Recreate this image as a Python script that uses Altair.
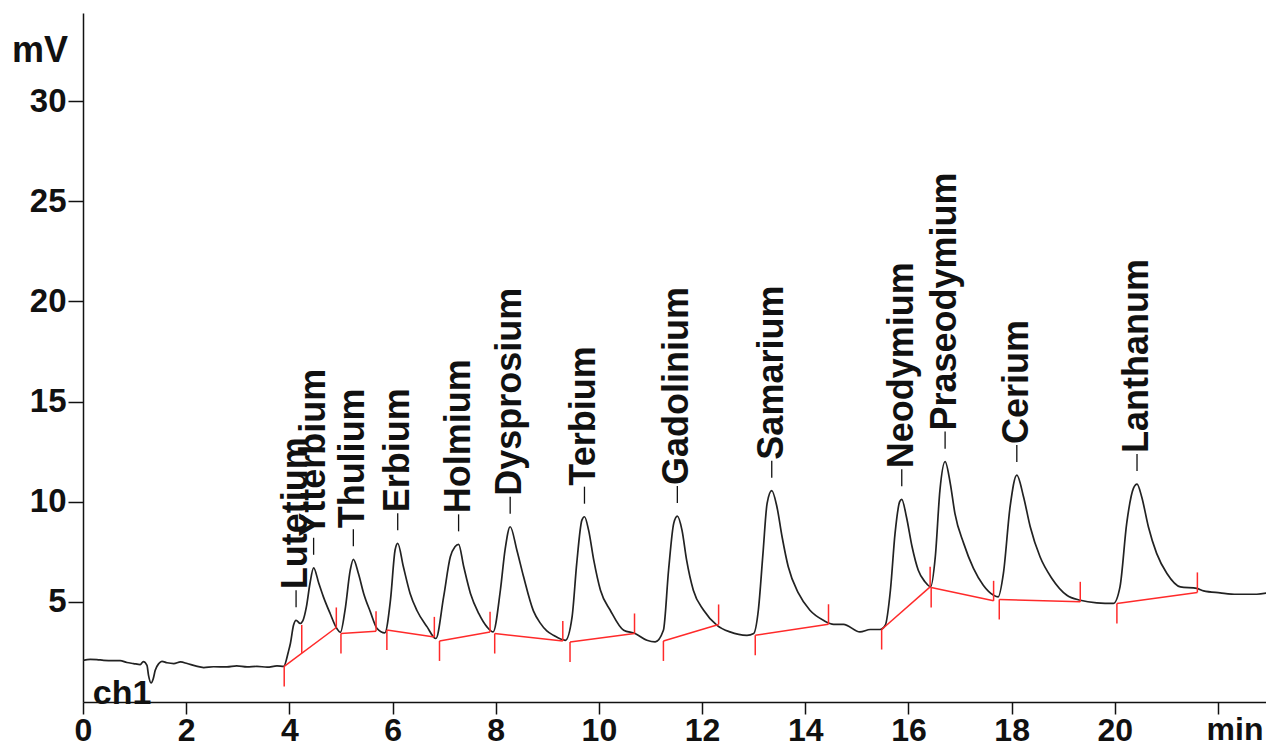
import altair as alt
import pandas as pd

# ---------------- data ----------------
trace_t = [0.00, 0.14, 0.27, 0.40, 0.59, 0.72, 0.85, 0.98, 1.11, 1.17, 1.24, 1.27, 1.32, 1.36, 1.40,
           1.47, 1.53, 1.63, 1.76, 1.89, 2.02, 2.18, 2.34, 2.53, 2.79, 2.98, 3.18, 3.37, 3.57, 3.76,
           3.89, 3.98, 4.02, 4.08, 4.13, 4.21, 4.26, 4.33, 4.40, 4.47, 4.57, 4.66, 4.79, 4.92, 4.99,
           5.08, 5.18, 5.24, 5.34, 5.44, 5.57, 5.70, 5.85, 5.96, 6.05, 6.10, 6.21, 6.34, 6.47, 6.67,
           6.84, 6.99, 7.12, 7.21, 7.28, 7.38, 7.51, 7.67, 7.83, 7.95, 8.09, 8.18, 8.28, 8.41, 8.54,
           8.73, 8.86, 8.99, 9.12, 9.35, 9.48, 9.57, 9.67, 9.72, 9.80, 9.90, 10.03, 10.22, 10.48, 10.70,
           10.93, 11.09, 11.25, 11.35, 11.45, 11.52, 11.61, 11.70, 11.83, 12.03, 12.29, 12.54, 12.87, 13.00,
           13.09, 13.18, 13.26, 13.35, 13.45, 13.55, 13.67, 13.87, 14.09, 14.35, 14.55, 14.74, 15.06, 15.26,
           15.45, 15.55, 15.65, 15.74, 15.83, 15.87, 15.96, 16.07, 16.19, 16.32, 16.43, 16.52, 16.61, 16.71,
           16.81, 16.90, 17.07, 17.26, 17.45, 17.65, 17.74, 17.84, 17.97, 18.10, 18.23, 18.36, 18.55, 18.78,
           19.07, 19.33, 19.65, 19.97, 20.10, 20.23, 20.36, 20.43, 20.52, 20.65, 20.81, 21.01, 21.27, 21.59,
           21.72, 22.04, 22.36, 22.75, 23.04]
trace_v = [2.08, 2.13, 2.12, 2.08, 2.07, 2.07, 1.97, 1.92, 1.87, 2.02, 1.83, 1.33, 0.95, 1.15, 1.58,
           1.92, 2.03, 1.96, 1.92, 2.00, 1.92, 1.80, 1.72, 1.76, 1.75, 1.80, 1.75, 1.78, 1.74, 1.80,
           1.78, 2.50, 2.92, 3.83, 4.08, 3.92, 4.05, 4.75, 5.93, 6.70, 5.93, 5.25, 4.42, 3.67, 3.48,
           4.60, 6.58, 7.12, 6.40, 5.42, 4.50, 3.67, 3.45, 5.10, 7.60, 7.92, 6.75, 5.42, 4.58, 3.75,
           3.17, 5.25, 7.25, 7.75, 7.87, 6.75, 5.42, 4.42, 3.75, 3.50, 5.58, 7.58, 8.75, 7.58, 6.25,
           4.55, 3.95, 3.55, 3.33, 3.08, 4.25, 6.92, 9.08, 9.25, 8.58, 7.08, 5.58, 4.58, 3.58, 3.42,
           3.08, 3.00, 3.58, 6.58, 8.92, 9.28, 8.58, 7.08, 5.58, 4.58, 3.83, 3.50, 3.33, 3.42,
           4.58, 7.42, 9.92, 10.55, 9.75, 8.25, 6.75, 5.42, 4.58, 4.08, 3.88, 3.88, 3.50, 3.62,
           3.62, 3.83, 5.58, 8.42, 10.00, 10.12, 9.25, 7.75, 6.58, 6.00, 5.75, 7.25, 10.58, 12.00,
           10.92, 9.42, 7.92, 6.67, 5.83, 5.33, 5.25, 6.42, 9.75, 11.33, 10.25, 8.75, 7.25, 6.17,
           5.33, 5.08, 4.95, 4.92, 5.75, 8.92, 10.67, 10.88, 10.25, 8.75, 7.42, 6.42, 5.75, 5.67,
           5.55, 5.45, 5.38, 5.38, 5.50]

peak_names = ["Lutetium", "Ytterbium", "Thulium", "Erbium", "Holmium", "Dysprosium", "Terbium",
              "Gadolinium", "Samarium", "Neodymium", "Praseodymium", "Cerium", "Lanthanum"]
peak_t = [4.13, 4.47, 5.24, 6.10, 7.28, 8.28, 9.72, 11.52, 13.35, 15.87, 16.71, 18.10, 20.43]
peak_v = [4.08, 6.70, 7.12, 7.92, 7.87, 8.75, 9.25, 9.28, 10.55, 10.12, 12.00, 11.33, 10.88]

# integration baselines (start time/value, end time/value)
base_t0 = [3.90, 5.00, 5.89, 6.91, 7.98, 9.44, 11.25, 13.03, 15.48, 16.44, 17.76, 20.04]
base_v0 = [1.78, 3.42, 3.60, 3.05, 3.42, 3.00, 3.05, 3.33, 3.62, 5.72, 5.12, 4.92]
base_t1 = [4.91, 5.68, 6.81, 7.89, 9.30, 10.69, 12.32, 14.45, 16.42, 17.65, 19.33, 21.60]
base_v1 = [3.72, 3.53, 3.25, 3.50, 3.05, 3.42, 3.87, 3.88, 5.75, 5.05, 5.00, 5.47]

# perpendicular drop line between Lutetium and Ytterbium
drop_t = [4.24]
drop_v0 = [2.45]
drop_v1 = [3.85]

x_ticks = [0, 2, 4, 6, 8, 10, 12, 14, 16, 18, 20, 22]
y_ticks = [5, 10, 15, 20, 25, 30]

ann_text = ["ch1"]
ann_t = [0.19]
ann_v = [-0.12]

# ---------------- styling ----------------
FONT = "Liberation Sans"
W, H = 1183, 689
XMAX, YMAX = 22.93, 34.4
TICK = 1.0        # mV length of baseline ticks
DASH_GAP = 0.65
DASH_LEN = 0.85
LABEL_OFF = 1.55
RED = "#ff2a2a"
INK = "#111111"
XLAB_PAD = 1
XLAB_SIZE = 32

xs = alt.Scale(domain=[0, XMAX], nice=False, zero=False)
ys = alt.Scale(domain=[0, YMAX], nice=False, zero=False)

trace = pd.DataFrame({"t": trace_t, "v": trace_v})
peaks = pd.DataFrame({"name": peak_names, "t": peak_t, "v": peak_v})
peaks["d0"] = peaks["v"] + DASH_GAP
peaks["d1"] = peaks["v"] + DASH_GAP + DASH_LEN
peaks["lab"] = peaks["v"] + LABEL_OFF

segs = pd.DataFrame({"t0": base_t0, "v0": base_v0, "t1": base_t1, "v1": base_v1})
ticks = pd.concat([
    pd.DataFrame({"t": base_t0, "y0": base_v0, "y1": [v - TICK for v in base_v0]}),
    pd.DataFrame({"t": base_t1, "y0": base_v1, "y1": [v + TICK for v in base_v1]}),
    pd.DataFrame({"t": drop_t, "y0": drop_v0, "y1": drop_v1}),
], ignore_index=True)
ann = pd.DataFrame({"text": ann_text, "t": ann_t, "v": ann_v})

line = alt.Chart(trace).mark_line(color="#222222", strokeWidth=1.7, interpolate="monotone", clip=True).encode(
    x=alt.X("t:Q", scale=xs, title=None,
            axis=alt.Axis(values=x_ticks, tickSize=12, labelPadding=XLAB_PAD,
                          labelFontSize=XLAB_SIZE,
                          labelExpr="datum.value == 22 ? '' : datum.label")),
    y=alt.Y("v:Q", scale=ys, title=None,
            axis=alt.Axis(values=y_ticks, tickSize=15, labelPadding=2, labelFontSize=33)),
)

seg_layer = alt.Chart(segs).mark_rule(color=RED, strokeWidth=1.5).encode(
    x=alt.X("t0:Q", scale=xs, title=None), x2="t1:Q",
    y=alt.Y("v0:Q", scale=ys, title=None), y2="v1:Q",
)

tick_layer = alt.Chart(ticks).mark_rule(color=RED, strokeWidth=1.5).encode(
    x=alt.X("t:Q", scale=xs, title=None),
    y=alt.Y("y0:Q", scale=ys, title=None), y2="y1:Q",
)

dash_layer = alt.Chart(peaks).mark_rule(color=INK, strokeWidth=1.3).encode(
    x=alt.X("t:Q", scale=xs, title=None),
    y=alt.Y("d0:Q", scale=ys, title=None), y2="d1:Q",
)

label_layer = alt.Chart(peaks).mark_text(
    angle=270, align="left", baseline="middle", font=FONT, fontSize=36,
    fontWeight="bold", color=INK
).encode(
    x=alt.X("t:Q", scale=xs, title=None),
    y=alt.Y("lab:Q", scale=ys, title=None),
    text="name:N",
)

ann_layer = alt.Chart(ann).mark_text(
    align="left", baseline="alphabetic", font=FONT, fontSize=34, fontWeight="bold", color=INK
).encode(
    x=alt.X("t:Q", scale=xs, title=None),
    y=alt.Y("v:Q", scale=ys, title=None),
    text="text:N",
)

unit_df = pd.DataFrame({"text": ["mV"], "v": [32.5]})
mv_layer = alt.Chart(unit_df).mark_text(
    align="right", baseline="middle", font=FONT, fontSize=36, fontWeight="bold", color=INK
).encode(
    x=alt.value(-15),
    y=alt.Y("v:Q", scale=ys, title=None),
    text="text:N",
)

min_df = pd.DataFrame({"text": ["min"], "t": [22.33]})
min_layer = alt.Chart(min_df).mark_text(
    align="center", baseline="top", font=FONT, fontSize=XLAB_SIZE, fontWeight="bold", color=INK
).encode(
    x=alt.X("t:Q", scale=xs, title=None),
    y=alt.value(H + 12 + XLAB_PAD),
    text="text:N",
)

chart = alt.layer(
    line, seg_layer, tick_layer, dash_layer, label_layer, ann_layer, mv_layer, min_layer
).properties(
    width=W, height=H,
    autosize=alt.AutoSizeParams(type="none"),
    padding={"left": 75, "top": 5, "right": 0, "bottom": 45},
).configure_view(stroke=None).configure_axis(
    grid=False, domainColor=INK, domainWidth=1.5, tickColor=INK, tickWidth=1.5,
    labelFont=FONT, labelFontWeight="bold", labelColor=INK,
    labelFlush=False, labelOverlap=False, labelBound=False,
)

chart.save("out.html", embed_options={"renderer": "svg", "actions": False})
